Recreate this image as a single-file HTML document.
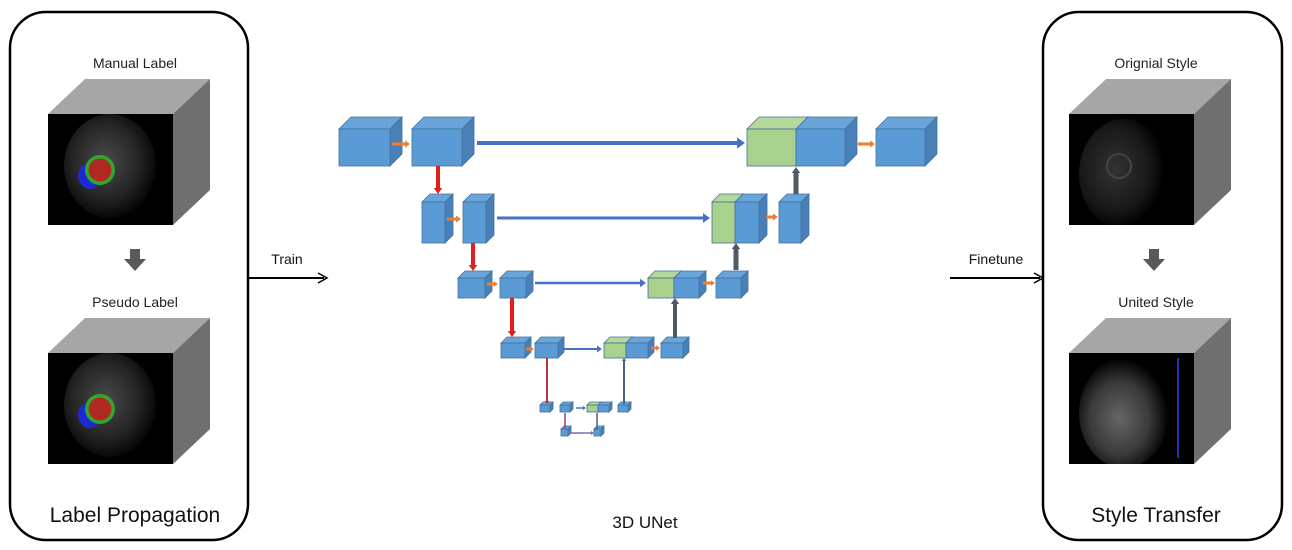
<!DOCTYPE html>
<html><head><meta charset="utf-8"><style>
html,body{margin:0;padding:0;background:#fff;}
svg{display:block;font-family:"Liberation Sans",sans-serif;}
</style></head><body>
<svg id="s" width="1292" height="550" viewBox="0 0 1292 550" xmlns="http://www.w3.org/2000/svg">
<defs>
<radialGradient id="mri1" cx="0.45" cy="0.45" r="0.6"><stop offset="0" stop-color="#4a4a4a"/><stop offset="0.6" stop-color="#252525"/><stop offset="1" stop-color="#000"/></radialGradient>
<radialGradient id="mri2" cx="0.4" cy="0.45" r="0.55"><stop offset="0" stop-color="#333"/><stop offset="0.7" stop-color="#181818"/><stop offset="1" stop-color="#000"/></radialGradient>
<radialGradient id="mri3" cx="0.45" cy="0.55" r="0.55"><stop offset="0" stop-color="#666"/><stop offset="0.6" stop-color="#3a3a3a"/><stop offset="1" stop-color="#000"/></radialGradient>
</defs>
<rect x="10" y="12" width="238" height="528" rx="36" fill="none" stroke="#000" stroke-width="2.5"/>
<rect x="1043" y="12" width="239" height="528" rx="36" fill="none" stroke="#000" stroke-width="2.5"/>
<text x="135" y="68" font-size="14" text-anchor="middle" fill="#222">Manual Label</text>
<text x="135" y="307" font-size="14" text-anchor="middle" fill="#222">Pseudo Label</text>
<text x="135" y="522" font-size="21" text-anchor="middle" fill="#111">Label Propagation</text>
<text x="1156" y="68" font-size="14" text-anchor="middle" fill="#222">Orignial Style</text>
<text x="1156" y="307" font-size="14" text-anchor="middle" fill="#222">United Style</text>
<text x="1156" y="522" font-size="21" text-anchor="middle" fill="#111">Style Transfer</text>
<text x="645" y="528" font-size="17" text-anchor="middle" fill="#111">3D UNet</text>
<line x1="248" y1="278" x2="324" y2="278" stroke="#000" stroke-width="2"/>
<path d="M318,273 L327,278 L318,283" fill="none" stroke="#000" stroke-width="1.5"/>
<text x="287" y="264" font-size="14" text-anchor="middle" fill="#111">Train</text>
<line x1="950" y1="278" x2="1040" y2="278" stroke="#000" stroke-width="2"/>
<path d="M1034,273 L1043,278 L1034,283" fill="none" stroke="#000" stroke-width="1.5"/>
<text x="996" y="264" font-size="14" text-anchor="middle" fill="#111">Finetune</text>
<g id="g"></g>
</svg>
<script>
var g=document.getElementById('g');var h='';var cid=0;
function bigcube(x,y,img){
 var w=125,hh=111,dx=37,dy=-35;cid++;
 h+='<clipPath id="c'+cid+'"><rect x="'+x+'" y="'+y+'" width="'+w+'" height="'+hh+'"/></clipPath>';
 h+='<polygon points="'+x+','+y+' '+(x+dx)+','+(y+dy)+' '+(x+w+dx)+','+(y+dy)+' '+(x+w)+','+y+'" fill="#a6a6a6"/>';
 h+='<polygon points="'+(x+w)+','+y+' '+(x+w+dx)+','+(y+dy)+' '+(x+w+dx)+','+(y+hh+dy)+' '+(x+w)+','+(y+hh)+'" fill="#6f6f6f"/>';
 h+='<rect x="'+x+'" y="'+y+'" width="'+w+'" height="'+hh+'" fill="#000"/>';
 h+='<g clip-path="url(#c'+cid+')">'+img(x,y)+'</g>';
}
function heart(x,y){return '<ellipse cx="'+(x+62)+'" cy="'+(y+52)+'" rx="46" ry="52" fill="url(#mri1)"/>'+
 '<ellipse cx="'+(x+42)+'" cy="'+(y+62)+'" rx="12" ry="13" fill="#1a2bd0"/>'+
 '<circle cx="'+(x+52)+'" cy="'+(y+56)+'" r="15" fill="#2ea82e"/><circle cx="'+(x+52)+'" cy="'+(y+56)+'" r="11.5" fill="#b02a22"/>';}
bigcube(48,114,heart);bigcube(48,353,heart);
bigcube(1069,114,function(x,y){return '<ellipse cx="'+(x+55)+'" cy="'+(y+60)+'" rx="45" ry="55" fill="url(#mri2)"/><circle cx="'+(x+50)+'" cy="'+(y+52)+'" r="12" fill="none" stroke="#444" stroke-width="2"/>';});
bigcube(1069,353,function(x,y){return '<ellipse cx="'+(x+55)+'" cy="'+(y+60)+'" rx="45" ry="55" fill="url(#mri3)"/><rect x="'+(x+108)+'" y="'+(y+5)+'" width="2" height="100" fill="#2233aa"/>';});
function garrow(cx,y){h+='<polygon points="'+(cx-5)+','+y+' '+(cx+5)+','+y+' '+(cx+5)+','+(y+10)+' '+(cx+11)+','+(y+10)+' '+cx+','+(y+22)+' '+(cx-11)+','+(y+10)+' '+(cx-5)+','+(y+10)+'" fill="#595959"/>';}
garrow(135,249);garrow(1154,249);
function cube(x,y1,y2,w,d,fill){
 fill=fill||'#5b9bd5';var top=fill=='#a9d18e'?'#b5d99c':'#6aa5da';var side=fill=='#a9d18e'?'#8fb774':'#4a80b8';
 h+='<polygon points="'+x+','+y1+' '+(x+d)+','+(y1-d)+' '+(x+w+d)+','+(y1-d)+' '+(x+w)+','+y1+'" fill="'+top+'" stroke="#41719c" stroke-width="0.8"/>';
 h+='<polygon points="'+(x+w)+','+y1+' '+(x+w+d)+','+(y1-d)+' '+(x+w+d)+','+(y2-d)+' '+(x+w)+','+y2+'" fill="'+side+'" stroke="#41719c" stroke-width="0.8"/>';
 h+='<rect x="'+x+'" y="'+y1+'" width="'+w+'" height="'+(y2-y1)+'" fill="'+fill+'" stroke="#41719c" stroke-width="0.8"/>';
}
function harrow(x1,x2,y,c,t,hs){h+='<line x1="'+x1+'" y1="'+y+'" x2="'+(x2-hs)+'" y2="'+y+'" stroke="'+c+'" stroke-width="'+t+'"/><polygon points="'+(x2-hs)+','+(y-hs*0.7)+' '+x2+','+y+' '+(x2-hs)+','+(y+hs*0.7)+'" fill="'+c+'"/>';}
function varrow(x,y1,y2,c,t,hs){var dir=y2>y1?1:-1;h+='<line x1="'+x+'" y1="'+y1+'" x2="'+x+'" y2="'+(y2-dir*hs)+'" stroke="'+c+'" stroke-width="'+t+'"/><polygon points="'+(x-hs*0.7)+','+(y2-dir*hs)+' '+x+','+y2+' '+(x+hs*0.7)+','+(y2-dir*hs)+'" fill="'+c+'"/>';}
var B='#4472c4',O='#ed7d31',R='#e0201e',K='#505a66';
cube(339,129,166,51,12);cube(412,129,166,50,12);
harrow(392,410,144,O,3,5);harrow(477,745,143,B,4,8);
cube(747,129,166,49,12,'#a9d18e');cube(796,129,166,49,12);
harrow(858,875,144,O,3,5);cube(876,129,166,49,12);
cube(422,202,243,23,8);cube(463,202,243,23,8);
harrow(447,461,219,O,3,5);harrow(497,710,218,B,3,7);
cube(712,202,243,23,8,'#a9d18e');cube(735,202,243,24,8);
harrow(766,778,217,O,3,5);cube(779,202,243,22,8);
cube(458,278,298,27,7);cube(500,278,298,26,7);
harrow(487,498,284,O,3,4);harrow(535,646,283,B,2.5,6);
cube(648,278,298,26,7,'#a9d18e');cube(674,278,298,25,7);
harrow(703,715,283,O,3,4);cube(716,278,298,25,7);
cube(501,343,358,24,6);cube(535,343,358,23,6);
harrow(526,534,349,O,2.5,4);harrow(563,602,349,B,2,5);
cube(604,343,358,22,6,'#a9d18e');cube(626,343,358,22,6);
harrow(651,660,348,O,2.5,4);cube(661,343,358,22,6);
cube(540,405,412,10,3);cube(560,405,412,10,3);harrow(576,586,408,B,1.5,3);
cube(587,405,412,11,3,'#a9d18e');cube(598,405,412,11,3);cube(618,405,412,10,3);
cube(561,429,436,7,3);cube(594,429,436,7,3);harrow(568,594,433,'#7a6fa8',1.5,3);
h+='<line x1="565" y1="413" x2="565" y2="429" stroke="#a0406a" stroke-width="1.5"/>';
h+='<line x1="597" y1="429" x2="597" y2="413" stroke="#4a6080" stroke-width="1.5"/>';
varrow(438,166,194,R,4,6);varrow(473,243,271,R,4,6);varrow(512,298,337,R,4,6);
varrow(547,358,404,'#c0303a',2,3);
varrow(796,194,167,K,5,6);varrow(736,270,243,K,5,6);varrow(675,338,298,K,4,6);
varrow(624,404,358,'#4a6080',2,3);
g.innerHTML=h;
</script>
</body></html>
